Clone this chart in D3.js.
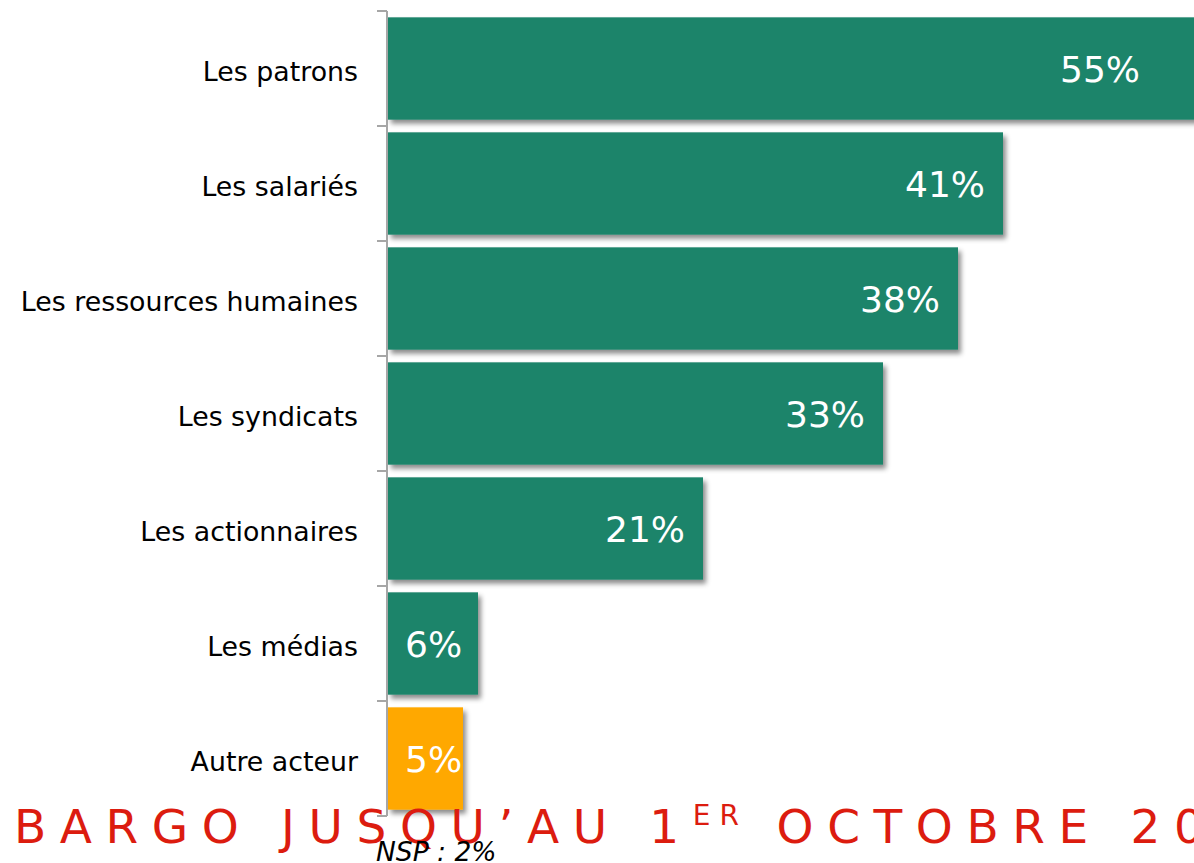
<!DOCTYPE html>
<html><head><meta charset="utf-8">
<script src="https://cdn.jsdelivr.net/npm/d3@7"></script>
<style>html,body{margin:0;padding:0;background:#fff;overflow:hidden}</style>
</head><body>
<svg id="chart" width="1194" height="863"></svg>
<script>
const categories = ["Les patrons","Les salariés","Les ressources humaines","Les syndicats","Les actionnaires","Les médias","Autre acteur"];
const values = [55,41,38,33,21,6,5];
const barColors = ["#1c846b","#1c846b","#1c846b","#1c846b","#1c846b","#1c846b","#ffa800"];
const valueLabels = ["55%","41%","38%","33%","21%","6%","5%"];
const note = "NSP : 2%";
const bannerA = "BARGO JUSQU’AU 1";
const bannerSup = "ER";
const bannerB = " OCTOBRE 20";

const svg = d3.select("#chart");
const x0 = 388;
const x = d3.scaleLinear().domain([0,1]).range([x0, x0+1500]);
const y = d3.scaleBand().domain(categories).range([11,816]).paddingInner(0.11).paddingOuter(0.055);

const defs = svg.append("defs");
const f = defs.append("filter").attr("id","sh").attr("x","-10%").attr("y","-10%").attr("width","130%").attr("height","140%");
f.append("feDropShadow").attr("dx",3).attr("dy",4).attr("stdDeviation",2.5).attr("flood-color","#000").attr("flood-opacity",0.45);

const data = categories.map((c,i)=>({c, v: values[i], col: barColors[i], lab: valueLabels[i]}));

svg.append("g").selectAll("rect").data(data).join("rect")
  .attr("x", x0).attr("y", d=>y(d.c))
  .attr("width", d=>x(d.v/100)-x0).attr("height", y.bandwidth())
  .attr("fill", d=>d.col).attr("filter","url(#sh)");

// axis
const axisG = svg.append("g").attr("transform",`translate(${x0-1},0)`);
axisG.append("line").attr("x1",0).attr("x2",0).attr("y1",11).attr("y2",816).attr("stroke","#a6a6a6").attr("stroke-width",2);
const bounds = d3.range(categories.length+1).map(i=> 11 + i*y.step());
axisG.selectAll("line.t").data(bounds).join("line").attr("class","t")
  .attr("x1",-10).attr("x2",0).attr("y1",d=>d).attr("y2",d=>d).attr("stroke","#a6a6a6").attr("stroke-width",2);

// category labels
svg.append("g").selectAll("text").data(data).join("text")
  .attr("x", 358).attr("y", d=>y(d.c)+y.bandwidth()/2+3)
  .attr("text-anchor","end").attr("dominant-baseline","central")
  .attr("font-family","DejaVu Sans, Verdana, sans-serif").attr("font-size",26.8)
  .attr("fill","#000").text(d=>d.c);

// value labels
const vl = svg.append("g").selectAll("text").data(data).join("text")
  .attr("y", d=>y(d.c)+y.bandwidth()/2+1)
  .attr("dominant-baseline","central")
  .attr("font-family","DejaVu Sans, Verdana, sans-serif").attr("font-size",36)
  .attr("fill","#fff").text(d=>d.lab);
vl.each(function(d){
  const w = this.getComputedTextLength();
  let end = Math.min(x(d.v/100)-18, 1140);
  let start = Math.max(end - w, x0+17);
  d3.select(this).attr("x", start);
});

// banner
const b = svg.append("text").attr("x",14).attr("y",843)
  .attr("font-family","DejaVu Sans, Verdana, sans-serif").attr("font-size",47)
  .attr("letter-spacing",13.6).attr("fill","#dc1c0f");
b.append("tspan").text(bannerA);
b.append("tspan").attr("font-size",28).attr("letter-spacing",9).attr("dy",-18).text(bannerSup);
b.append("tspan").attr("dy",18).text(bannerB);

svg.append("text").attr("x",376).attr("y",861)
  .attr("font-family","DejaVu Sans, Verdana, sans-serif").attr("font-style","italic").attr("font-size",26.5)
  .attr("fill","#000").text(note);
</script>
</body></html>
